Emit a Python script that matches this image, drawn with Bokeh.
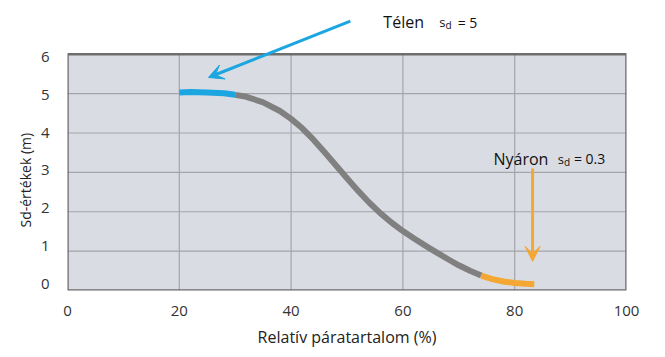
from bokeh.plotting import figure
from bokeh.models import Range1d, FixedTicker, Label, Arrow, VeeHead, LinearAxis, Title
from bokeh.embed import file_html
from bokeh.resources import INLINE

# Data: relative humidity (%) vs sd-value (m)
winter_rh = [20, 22, 25, 28, 30]
winter_sd = [5.03, 5.04, 5.03, 5.01, 4.97]
mid_rh = [30, 32, 35, 38, 40, 42, 44, 46, 48, 50, 52, 54, 56, 58, 60, 62, 64, 66, 68, 70, 72, 74]
mid_sd = [4.97, 4.92, 4.78, 4.56, 4.36, 4.12, 3.83, 3.51, 3.18, 2.85, 2.53, 2.23, 1.96, 1.72,
          1.51, 1.32, 1.14, 0.97, 0.80, 0.64, 0.50, 0.38]
summer_rh = [74, 76, 78, 80, 82, 83.5]
summer_sd = [0.38, 0.29, 0.23, 0.19, 0.17, 0.16]

x_ticks = [0, 20, 40, 60, 80, 100]
y_ticks = [0, 1, 2, 3, 4, 5, 6]

FONT = "Open Sans"
BLUE = "#1ba6e1"
GRAY = "#808080"
ORANGE = "#f5a733"
BOX = "#d9dce3"
GRID = "#a3a5aa"
EDGE = "#6e6e6e"

p = figure(width=660, height=350, output_backend="svg", toolbar_location=None,
           x_range=Range1d(0, 100), y_range=Range1d(0, 7.29),
           y_axis_location=None,
           min_border_left=67, min_border_top=3, min_border_right=34, min_border_bottom=53)
p.extra_y_ranges = {"lab": Range1d(-0.181, 7.422)}

p.background_fill_color = "white"
p.border_fill_color = "white"
p.outline_line_color = None
p.grid.visible = False

# x axis
p.xaxis.ticker = FixedTicker(ticks=x_ticks)
# y axis (labels)
yax = LinearAxis(y_range_name="lab", ticker=FixedTicker(ticks=y_ticks))
p.add_layout(yax, "left")
for ax in (p.xaxis[0], yax):
    ax.axis_line_color = None
    ax.major_tick_line_color = None
    ax.minor_tick_line_color = None
    ax.major_label_text_font = FONT
    ax.major_label_text_font_size = "15px"
    ax.major_label_text_color = "#333333"
    ax.axis_label_text_font = FONT
    ax.axis_label_text_font_style = "normal"
    ax.axis_label_text_color = "#222222"

p.xaxis.axis_label = "Relatív páratartalom (%)"
p.xaxis.axis_label_text_font_size = "16px"
p.xaxis.major_label_standoff = 9
p.xaxis.axis_label_standoff = 7
yax.major_label_standoff = 12

p.add_layout(Title(text="Sd-értékek (m)", align="left", offset=63,
                   text_font=FONT, text_font_size="14px", text_font_style="normal",
                   text_color="#222222", standoff=6), "left")

# plot box
x0, x1 = x_ticks[0], x_ticks[-1]
y0, y1 = y_ticks[0], y_ticks[-1]
p.quad(left=[x0], right=[x1], bottom=[y0], top=[y1], fill_color=BOX, line_color=None)
p.segment(x0=x_ticks[1:-1], y0=[y0] * (len(x_ticks) - 2), x1=x_ticks[1:-1], y1=[y1] * (len(x_ticks) - 2),
          line_color=GRID, line_width=1.2)
p.segment(x0=[x0] * (len(y_ticks) - 2), y0=y_ticks[1:-1], x1=[x1] * (len(y_ticks) - 2), y1=y_ticks[1:-1],
          line_color=GRID, line_width=1.2)
p.quad(left=[x0], right=[x1], bottom=[y0], top=[y1], fill_color=None, line_color=EDGE, line_width=2.5)

# curve
p.line(mid_rh, mid_sd, line_color=GRAY, line_width=6, line_join="round")
p.line(winter_rh, winter_sd, line_color=BLUE, line_width=6, line_join="round")
p.line(summer_rh, summer_sd, line_color=ORANGE, line_width=6, line_join="round")

# Annotations
p.add_layout(Arrow(end=VeeHead(size=15, fill_color=BLUE, line_color=BLUE, line_width=1),
                   x_start=50.6, y_start=6.84, x_end=25.2, y_end=5.41,
                   line_color=BLUE, line_width=3))
p.add_layout(Arrow(end=VeeHead(size=15, fill_color=ORANGE, line_color=ORANGE, line_width=1),
                   x_start=83.2, y_start=3.1, x_end=83.2, y_end=0.74,
                   line_color=ORANGE, line_width=3))

def lab(x, y, t, size):
    p.add_layout(Label(x=x, y=y, text=t, text_font=FONT, text_font_size=size,
                       text_color="#111111", text_baseline="alphabetic"))

lab(56.5, 6.82, "Télen", "16px")
lab(66.5, 6.82, "s", "13px")
lab(67.6, 6.745, "d", "10px")
lab(69.8, 6.82, "= 5", "14px")

lab(76.2, 3.35, "Nyáron", "16px")
lab(87.7, 3.35, "s", "13px")
lab(88.8, 3.275, "d", "10px")
lab(90.6, 3.35, "= 0.3", "14px")

open("out.html", "w").write(file_html(p, INLINE))
